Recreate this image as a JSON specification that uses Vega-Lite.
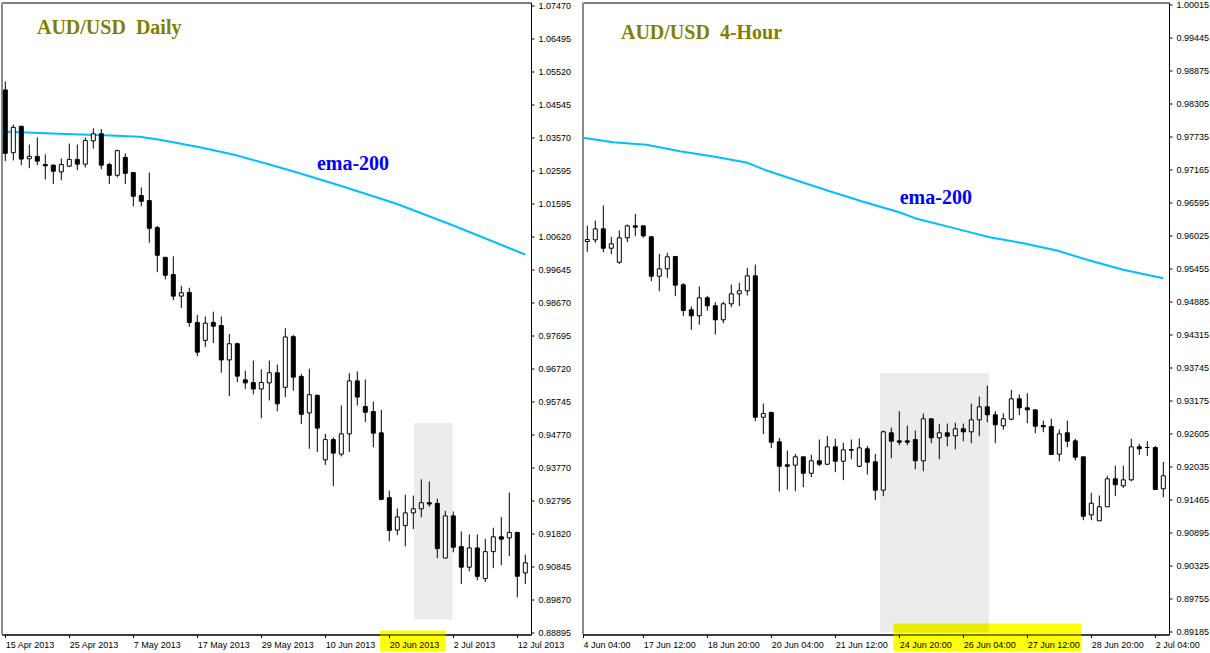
{
  "$schema": "https://vega.github.io/schema/vega-lite/v6.json",
  "background": "white",
  "padding": {"left": -3, "top": -0.5, "right": 0, "bottom": 0},
  "spacing": 52,
  "bounds": "flush",
  "config": {
    "view": {"stroke": "black", "strokeWidth": 1},
    "scale": {"continuousPadding": 0}
  },
  "datasets": {
    "daily": [
      {"i":0,"o":1.0497,"h":1.0522,"l":1.0286,"c":1.0309},
      {"i":1,"o":1.0311,"h":1.0394,"l":1.0288,"c":1.0386},
      {"i":2,"o":1.0389,"h":1.0391,"l":1.0274,"c":1.0292},
      {"i":3,"o":1.0293,"h":1.0335,"l":1.0265,"c":1.0300},
      {"i":4,"o":1.0300,"h":1.0356,"l":1.0274,"c":1.0286},
      {"i":5,"o":1.0276,"h":1.0306,"l":1.0232,"c":1.0272},
      {"i":6,"o":1.0274,"h":1.0276,"l":1.0218,"c":1.0256},
      {"i":7,"o":1.0254,"h":1.0294,"l":1.0229,"c":1.0276},
      {"i":8,"o":1.0271,"h":1.0338,"l":1.0268,"c":1.0291},
      {"i":9,"o":1.0291,"h":1.0335,"l":1.0259,"c":1.0277},
      {"i":10,"o":1.0277,"h":1.0356,"l":1.0267,"c":1.0347},
      {"i":11,"o":1.0346,"h":1.0383,"l":1.0323,"c":1.0367},
      {"i":12,"o":1.0367,"h":1.0381,"l":1.0262,"c":1.0274},
      {"i":13,"o":1.0276,"h":1.0281,"l":1.0218,"c":1.0244},
      {"i":14,"o":1.0244,"h":1.0320,"l":1.0238,"c":1.0317},
      {"i":15,"o":1.0297,"h":1.0309,"l":1.0218,"c":1.0250},
      {"i":16,"o":1.0252,"h":1.0252,"l":1.0152,"c":1.0182},
      {"i":17,"o":1.0184,"h":1.0208,"l":1.0152,"c":1.0167},
      {"i":18,"o":1.0169,"h":1.0252,"l":1.0044,"c":1.0087},
      {"i":19,"o":1.0089,"h":1.0094,"l":0.9957,"c":1.0007},
      {"i":20,"o":1.0001,"h":1.0001,"l":0.9936,"c":0.9948},
      {"i":21,"o":0.9950,"h":1.0004,"l":0.9874,"c":0.9886},
      {"i":22,"o":0.9886,"h":0.9917,"l":0.9851,"c":0.9896},
      {"i":23,"o":0.9897,"h":0.9911,"l":0.9795,"c":0.9808},
      {"i":24,"o":0.9808,"h":0.9830,"l":0.9708,"c":0.9720},
      {"i":25,"o":0.9755,"h":0.9826,"l":0.9735,"c":0.9806},
      {"i":26,"o":0.9808,"h":0.9840,"l":0.9747,"c":0.9797},
      {"i":27,"o":0.9799,"h":0.9826,"l":0.9659,"c":0.9697},
      {"i":28,"o":0.9697,"h":0.9774,"l":0.9590,"c":0.9745},
      {"i":29,"o":0.9745,"h":0.9748,"l":0.9631,"c":0.9649},
      {"i":30,"o":0.9638,"h":0.9665,"l":0.9611,"c":0.9629},
      {"i":31,"o":0.9630,"h":0.9695,"l":0.9595,"c":0.9611},
      {"i":32,"o":0.9611,"h":0.9669,"l":0.9524,"c":0.9630},
      {"i":33,"o":0.9629,"h":0.9695,"l":0.9577,"c":0.9659},
      {"i":34,"o":0.9659,"h":0.9683,"l":0.9545,"c":0.9567},
      {"i":35,"o":0.9616,"h":0.9791,"l":0.9587,"c":0.9765},
      {"i":36,"o":0.9766,"h":0.9771,"l":0.9606,"c":0.9646},
      {"i":37,"o":0.9648,"h":0.9656,"l":0.9507,"c":0.9536},
      {"i":38,"o":0.9540,"h":0.9671,"l":0.9434,"c":0.9594},
      {"i":39,"o":0.9592,"h":0.9595,"l":0.9424,"c":0.9495},
      {"i":40,"o":0.9401,"h":0.9478,"l":0.9386,"c":0.9461},
      {"i":41,"o":0.9461,"h":0.9468,"l":0.9323,"c":0.9421},
      {"i":42,"o":0.9418,"h":0.9562,"l":0.9411,"c":0.9478},
      {"i":43,"o":0.9478,"h":0.9658,"l":0.9424,"c":0.9635},
      {"i":44,"o":0.9635,"h":0.9663,"l":0.9562,"c":0.9587},
      {"i":45,"o":0.9559,"h":0.9639,"l":0.9513,"c":0.9542},
      {"i":46,"o":0.9544,"h":0.9574,"l":0.9438,"c":0.9480},
      {"i":47,"o":0.9481,"h":0.9549,"l":0.9281,"c":0.9284},
      {"i":48,"o":0.9289,"h":0.9310,"l":0.9160,"c":0.9192},
      {"i":49,"o":0.9193,"h":0.9257,"l":0.9178,"c":0.9232},
      {"i":50,"o":0.9206,"h":0.9298,"l":0.9145,"c":0.9244},
      {"i":51,"o":0.9244,"h":0.9295,"l":0.9196,"c":0.9256},
      {"i":52,"o":0.9256,"h":0.9343,"l":0.9231,"c":0.9274},
      {"i":53,"o":0.9274,"h":0.9337,"l":0.9262,"c":0.9270},
      {"i":54,"o":0.9272,"h":0.9286,"l":0.9110,"c":0.9138},
      {"i":55,"o":0.9110,"h":0.9250,"l":0.9110,"c":0.9235},
      {"i":56,"o":0.9235,"h":0.9248,"l":0.9127,"c":0.9142},
      {"i":57,"o":0.9144,"h":0.9189,"l":0.9033,"c":0.9083},
      {"i":58,"o":0.9083,"h":0.9180,"l":0.9071,"c":0.9140},
      {"i":59,"o":0.9140,"h":0.9180,"l":0.9044,"c":0.9056},
      {"i":60,"o":0.9049,"h":0.9167,"l":0.9039,"c":0.9129},
      {"i":61,"o":0.9129,"h":0.9200,"l":0.9080,"c":0.9173},
      {"i":62,"o":0.9173,"h":0.9232,"l":0.9089,"c":0.9166},
      {"i":63,"o":0.9170,"h":0.9304,"l":0.9116,"c":0.9186},
      {"i":64,"o":0.9186,"h":0.9188,"l":0.8994,"c":0.9056},
      {"i":65,"o":0.9066,"h":0.9120,"l":0.9033,"c":0.9096}
    ],
    "h4": [
      {"i":0,"o":0.95919,"h":0.96190,"l":0.95741,"c":0.95953},
      {"i":1,"o":0.95948,"h":0.96282,"l":0.95896,"c":0.96138},
      {"i":2,"o":0.96138,"h":0.96541,"l":0.95734,"c":0.95803},
      {"i":3,"o":0.95803,"h":0.96000,"l":0.95699,"c":0.95879},
      {"i":4,"o":0.95561,"h":0.96109,"l":0.95533,"c":0.95983},
      {"i":5,"o":0.95983,"h":0.96213,"l":0.95907,"c":0.96190},
      {"i":6,"o":0.96190,"h":0.96398,"l":0.96010,"c":0.96166},
      {"i":7,"o":0.96190,"h":0.96190,"l":0.95983,"c":0.96017},
      {"i":8,"o":0.96000,"h":0.96017,"l":0.95233,"c":0.95319},
      {"i":9,"o":0.95319,"h":0.95706,"l":0.95060,"c":0.95447},
      {"i":10,"o":0.95447,"h":0.95724,"l":0.95292,"c":0.95655},
      {"i":11,"o":0.95660,"h":0.95672,"l":0.94974,"c":0.95164},
      {"i":12,"o":0.95171,"h":0.95198,"l":0.94628,"c":0.94726},
      {"i":13,"o":0.94739,"h":0.94796,"l":0.94393,"c":0.94635},
      {"i":14,"o":0.94635,"h":0.95141,"l":0.94484,"c":0.94946},
      {"i":15,"o":0.94946,"h":0.94980,"l":0.94726,"c":0.94808},
      {"i":16,"o":0.94808,"h":0.94870,"l":0.94312,"c":0.94566},
      {"i":17,"o":0.94566,"h":0.94877,"l":0.94507,"c":0.94842},
      {"i":18,"o":0.94842,"h":0.95176,"l":0.94783,"c":0.95015},
      {"i":19,"o":0.95015,"h":0.95205,"l":0.94801,"c":0.95067},
      {"i":20,"o":0.95067,"h":0.95464,"l":0.94986,"c":0.95326},
      {"i":21,"o":0.95326,"h":0.95521,"l":0.92813,"c":0.92882},
      {"i":22,"o":0.92882,"h":0.93119,"l":0.92589,"c":0.92946},
      {"i":23,"o":0.92964,"h":0.92981,"l":0.92347,"c":0.92450},
      {"i":24,"o":0.92457,"h":0.92526,"l":0.91598,"c":0.92035},
      {"i":25,"o":0.92060,"h":0.92307,"l":0.91633,"c":0.92035},
      {"i":26,"o":0.92053,"h":0.92250,"l":0.91603,"c":0.92198},
      {"i":27,"o":0.92198,"h":0.92198,"l":0.91673,"c":0.91914},
      {"i":28,"o":0.91914,"h":0.92232,"l":0.91845,"c":0.92129},
      {"i":29,"o":0.92129,"h":0.92497,"l":0.92035,"c":0.92070},
      {"i":30,"o":0.92070,"h":0.92561,"l":0.92053,"c":0.92371},
      {"i":31,"o":0.92371,"h":0.92509,"l":0.91932,"c":0.92122},
      {"i":32,"o":0.92122,"h":0.92440,"l":0.91793,"c":0.92319},
      {"i":33,"o":0.92324,"h":0.92497,"l":0.92156,"c":0.92312},
      {"i":34,"o":0.92035,"h":0.92514,"l":0.92018,"c":0.92353},
      {"i":35,"o":0.92336,"h":0.92388,"l":0.91892,"c":0.92105},
      {"i":36,"o":0.92111,"h":0.92250,"l":0.91448,"c":0.91621},
      {"i":37,"o":0.91621,"h":0.92652,"l":0.91517,"c":0.92630},
      {"i":38,"o":0.92613,"h":0.92704,"l":0.92174,"c":0.92468},
      {"i":39,"o":0.92474,"h":0.92986,"l":0.92398,"c":0.92450},
      {"i":40,"o":0.92474,"h":0.92739,"l":0.92398,"c":0.92450},
      {"i":41,"o":0.92497,"h":0.92652,"l":0.91984,"c":0.92129},
      {"i":42,"o":0.92129,"h":0.92946,"l":0.91949,"c":0.92855},
      {"i":43,"o":0.92855,"h":0.92855,"l":0.92433,"c":0.92526},
      {"i":44,"o":0.92526,"h":0.92768,"l":0.92156,"c":0.92613},
      {"i":45,"o":0.92613,"h":0.92773,"l":0.92381,"c":0.92554},
      {"i":46,"o":0.92561,"h":0.92786,"l":0.92329,"c":0.92682},
      {"i":47,"o":0.92682,"h":0.92773,"l":0.92468,"c":0.92630},
      {"i":48,"o":0.92630,"h":0.93119,"l":0.92433,"c":0.92837},
      {"i":49,"o":0.92837,"h":0.93240,"l":0.92554,"c":0.93062},
      {"i":50,"o":0.93062,"h":0.93430,"l":0.92796,"c":0.92924},
      {"i":51,"o":0.92924,"h":0.92986,"l":0.92433,"c":0.92751},
      {"i":52,"o":0.92734,"h":0.92951,"l":0.92665,"c":0.92855},
      {"i":53,"o":0.92848,"h":0.93356,"l":0.92830,"c":0.93200},
      {"i":54,"o":0.93200,"h":0.93275,"l":0.92917,"c":0.93045},
      {"i":55,"o":0.93045,"h":0.93297,"l":0.92779,"c":0.93010},
      {"i":56,"o":0.93010,"h":0.93010,"l":0.92606,"c":0.92727},
      {"i":57,"o":0.92739,"h":0.92825,"l":0.92623,"c":0.92716},
      {"i":58,"o":0.92722,"h":0.92855,"l":0.92232,"c":0.92238},
      {"i":59,"o":0.92243,"h":0.92670,"l":0.92122,"c":0.92595},
      {"i":60,"o":0.92613,"h":0.92825,"l":0.92364,"c":0.92468},
      {"i":61,"o":0.92474,"h":0.92509,"l":0.92134,"c":0.92191},
      {"i":62,"o":0.92198,"h":0.92198,"l":0.91102,"c":0.91171},
      {"i":63,"o":0.91195,"h":0.91576,"l":0.91102,"c":0.91396},
      {"i":64,"o":0.91092,"h":0.91529,"l":0.91092,"c":0.91334},
      {"i":65,"o":0.91334,"h":0.91870,"l":0.91334,"c":0.91818},
      {"i":66,"o":0.91818,"h":0.92042,"l":0.91517,"c":0.91714},
      {"i":67,"o":0.91697,"h":0.92042,"l":0.91662,"c":0.91800},
      {"i":68,"o":0.91800,"h":0.92509,"l":0.91776,"c":0.92371},
      {"i":69,"o":0.92371,"h":0.92423,"l":0.92232,"c":0.92336},
      {"i":70,"o":0.92359,"h":0.92468,"l":0.92215,"c":0.92359},
      {"i":71,"o":0.92359,"h":0.92388,"l":0.91627,"c":0.91633},
      {"i":72,"o":0.91645,"h":0.92111,"l":0.91500,"c":0.91870}
    ],
    "emaDaily": [
      {"i":-0.4125,"p":1.03737},{"i":4.96,"p":1.03687},{"i":13.1,"p":1.03619},{"i":16.8,"p":1.03580},
      {"i":19.3,"p":1.03491},{"i":24.3,"p":1.03272},{"i":28.5,"p":1.03056},{"i":32.7,"p":1.02780},
      {"i":36.8,"p":1.02502},{"i":41.8,"p":1.02137},{"i":48.9,"p":1.01595},{"i":56,"p":1.00952},
      {"i":65,"p":1.00093}
    ],
    "emaH4": [
      {"i":-0.5375,"p":0.97711},{"i":3.25,"p":0.97635},{"i":7.4,"p":0.97590},{"i":11.6,"p":0.97480},
      {"i":15.75,"p":0.97388},{"i":19.9,"p":0.97284},{"i":22.4,"p":0.97146},{"i":26.2,"p":0.96973},
      {"i":30.3,"p":0.96788},{"i":34.5,"p":0.96605},{"i":39.1,"p":0.96420},{"i":41.2,"p":0.96311},
      {"i":46.2,"p":0.96138},{"i":50.3,"p":0.95993},{"i":54.5,"p":0.95889},{"i":58.7,"p":0.95763},
      {"i":62.8,"p":0.95590},{"i":67,"p":0.95430},{"i":72,"p":0.95285}
    ]
  },
  "hconcat": [
    {
      "width": 529,
      "height": 632,
      "layer": [
        {
          "data": {"values": [{"i":46.84,"i2":55.05,"p":0.88954,"p2":0.88347}]},
          "mark": {"type": "rect", "color": "#ffff00", "clip": false},
          "encoding": {
            "x": {"field": "i", "type": "quantitative", "title": null,
                  "scale": {"domain": [-0.4125, 65.7125], "nice": false, "zero": false, "padding": 0},
                  "axis": {"values": [0,8,16,24,32,40,48,56,64], "tickCount": 40, "zindex": 1, "grid": false,
                           "labelOverlap": false, "labelFlush": false, "labelBound": false,
                           "labelAlign": "left", "labelBaseline": "top", "labelPadding": 3,
                           "labelFont": "Liberation Sans", "labelFontSize": 9, "labelColor": "black",
                           "tickColor": "black", "tickSize": 3, "domainColor": "black",
                           "labelExpr": "['15 Apr 2013','25 Apr 2013','7 May 2013','17 May 2013','29 May 2013','10 Jun 2013','20 Jun 2013','2 Jul 2013','12 Jul 2013'][round(datum.value/8)]"}},
            "x2": {"field": "i2"},
            "y": {"field": "p", "type": "quantitative", "title": null,
                  "scale": {"domain": [0.88836, 1.07559], "nice": false, "zero": false, "padding": 0},
                  "axis": {"orient": "right", "format": ".5f", "tickCount": 40, "zindex": 1, "grid": false,
                           "labelOverlap": false, "labelFlush": false, "labelBound": false,
                           "labelPadding": 4, "labelFont": "Liberation Sans", "labelFontSize": 9, "labelColor": "black",
                           "tickColor": "black", "tickSize": 3, "domainColor": "black",
                           "values": [1.07470,1.06495,1.05520,1.04545,1.03570,1.02595,1.01595,1.00620,0.99645,0.98670,0.97695,0.96720,0.95745,0.94770,0.93770,0.92795,0.91820,0.90845,0.89870,0.88895]}},
            "y2": {"field": "p2"}
          }
        },
        {
          "data": {"values": [{"i":51.09,"i2":55.9,"p":0.9510,"p2":0.8929}]},
          "mark": {"type": "rect", "color": "black", "opacity": 0.075},
          "encoding": {
            "x": {"field": "i", "type": "quantitative", "title": null, "scale": {"domain": [-0.4125, 65.7125], "nice": false, "zero": false, "padding": 0}},
            "x2": {"field": "i2"},
            "y": {"field": "p", "type": "quantitative", "title": null, "scale": {"domain": [0.88836, 1.07559], "nice": false, "zero": false, "padding": 0}},
            "y2": {"field": "p2"}
          }
        },
        {
          "data": {"values": [{"i": -0.4125}]},
          "mark": {"type": "rule", "color": "#8c8c8c", "strokeWidth": 2},
          "encoding": {
            "x": {"field": "i", "type": "quantitative", "title": null, "scale": {"domain": [-0.4125, 65.7125], "nice": false, "zero": false, "padding": 0}}
          }
        },
        {
          "data": {"name": "emaDaily"},
          "mark": {"type": "line", "color": "#00bfff", "strokeWidth": 2},
          "encoding": {
            "x": {"field": "i", "type": "quantitative", "title": null, "scale": {"domain": [-0.4125, 65.7125], "nice": false, "zero": false, "padding": 0}},
            "y": {"field": "p", "type": "quantitative", "title": null, "scale": {"domain": [0.88836, 1.07559], "nice": false, "zero": false, "padding": 0}}
          }
        },
        {
          "data": {"name": "daily"},
          "mark": {"type": "rule", "color": "black", "strokeWidth": 1},
          "encoding": {
            "x": {"field": "i", "type": "quantitative", "title": null, "scale": {"domain": [-0.4125, 65.7125], "nice": false, "zero": false, "padding": 0}},
            "y": {"field": "l", "type": "quantitative", "title": null, "scale": {"domain": [0.88836, 1.07559], "nice": false, "zero": false, "padding": 0}},
            "y2": {"field": "h"}
          }
        },
        {
          "data": {"name": "daily"},
          "mark": {"type": "bar", "width": 4, "stroke": "black", "strokeWidth": 1},
          "encoding": {
            "x": {"field": "i", "type": "quantitative", "title": null, "scale": {"domain": [-0.4125, 65.7125], "nice": false, "zero": false, "padding": 0}},
            "y": {"field": "o", "type": "quantitative", "title": null, "scale": {"domain": [0.88836, 1.07559], "nice": false, "zero": false, "padding": 0}},
            "y2": {"field": "c"},
            "fill": {"condition": {"test": "datum.c > datum.o", "value": "white"}, "value": "black"}
          }
        },
        {
          "data": {"values": [{"i": 3.96, "p": 1.06789, "t": "AUD/USD\u00a0 Daily"}]},
          "mark": {"type": "text", "align": "left", "baseline": "middle", "font": "Liberation Serif", "fontWeight": "bold", "fontSize": 20, "color": "#808000"},
          "encoding": {
            "x": {"field": "i", "type": "quantitative", "title": null, "scale": {"domain": [-0.4125, 65.7125], "nice": false, "zero": false, "padding": 0}},
            "y": {"field": "p", "type": "quantitative", "title": null, "scale": {"domain": [0.88836, 1.07559], "nice": false, "zero": false, "padding": 0}},
            "text": {"field": "t"}
          }
        },
        {
          "data": {"values": [{"i": 43.46, "p": 1.0276, "t": "ema-200"}]},
          "mark": {"type": "text", "align": "center", "baseline": "middle", "font": "Liberation Serif", "fontWeight": "bold", "fontSize": 20, "color": "#0000ff"},
          "encoding": {
            "x": {"field": "i", "type": "quantitative", "title": null, "scale": {"domain": [-0.4125, 65.7125], "nice": false, "zero": false, "padding": 0}},
            "y": {"field": "p", "type": "quantitative", "title": null, "scale": {"domain": [0.88836, 1.07559], "nice": false, "zero": false, "padding": 0}},
            "text": {"field": "t"}
          }
        }
      ]
    },
    {
      "width": 586,
      "height": 632,
      "layer": [
        {
          "data": {"values": [{"i":38.25,"i2":61.71,"p":0.89317,"p2":0.88842}]},
          "mark": {"type": "rect", "color": "#ffff00", "clip": false},
          "encoding": {
            "x": {"field": "i", "type": "quantitative", "title": null,
                  "scale": {"domain": [-0.5375, 72.7125], "nice": false, "zero": false, "padding": 0},
                  "axis": {"values": [-0.5375,7,15,23,31,39,47,55,63,71], "tickCount": 40, "zindex": 1, "grid": false,
                           "labelOverlap": false, "labelFlush": false, "labelBound": false,
                           "labelAlign": "left", "labelBaseline": "top", "labelPadding": 3,
                           "labelFont": "Liberation Sans", "labelFontSize": 9, "labelColor": "black",
                           "tickColor": "black", "tickSize": 3, "domainColor": "black",
                           "labelExpr": "datum.value < 0 ? '4 Jun 04:00' : ['17 Jun 12:00','18 Jun 20:00','20 Jun 04:00','21 Jun 12:00','24 Jun 20:00','26 Jun 04:00','27 Jun 12:00','28 Jun 20:00','2 Jul 04:00'][round((datum.value-7)/8)]"}},
            "x2": {"field": "i2"},
            "y": {"field": "p", "type": "quantitative", "title": null,
                  "scale": {"domain": [0.89127, 1.00050], "nice": false, "zero": false, "padding": 0},
                  "axis": {"orient": "right", "format": ".5f", "tickCount": 40, "zindex": 1, "grid": false,
                           "labelOverlap": false, "labelFlush": false, "labelBound": false,
                           "labelPadding": 4, "labelFont": "Liberation Sans", "labelFontSize": 9, "labelColor": "black",
                           "tickColor": "black", "tickSize": 3, "domainColor": "black",
                           "values": [1.00015,0.99445,0.98875,0.98305,0.97735,0.97165,0.96595,0.96025,0.95455,0.94885,0.94315,0.93745,0.93175,0.92605,0.92035,0.91465,0.90895,0.90325,0.89755,0.89185]}},
            "y2": {"field": "p2"}
          }
        },
        {
          "data": {"values": [{"i":36.59,"i2":50.21,"p":0.93643,"p2":0.89161}]},
          "mark": {"type": "rect", "color": "black", "opacity": 0.075},
          "encoding": {
            "x": {"field": "i", "type": "quantitative", "title": null, "scale": {"domain": [-0.5375, 72.7125], "nice": false, "zero": false, "padding": 0}},
            "x2": {"field": "i2"},
            "y": {"field": "p", "type": "quantitative", "title": null, "scale": {"domain": [0.89127, 1.00050], "nice": false, "zero": false, "padding": 0}},
            "y2": {"field": "p2"}
          }
        },
        {
          "data": {"values": [{"i": -0.5375}]},
          "mark": {"type": "rule", "color": "#8c8c8c", "strokeWidth": 2},
          "encoding": {
            "x": {"field": "i", "type": "quantitative", "title": null, "scale": {"domain": [-0.5375, 72.7125], "nice": false, "zero": false, "padding": 0}}
          }
        },
        {
          "data": {"name": "emaH4"},
          "mark": {"type": "line", "color": "#00bfff", "strokeWidth": 2},
          "encoding": {
            "x": {"field": "i", "type": "quantitative", "title": null, "scale": {"domain": [-0.5375, 72.7125], "nice": false, "zero": false, "padding": 0}},
            "y": {"field": "p", "type": "quantitative", "title": null, "scale": {"domain": [0.89127, 1.00050], "nice": false, "zero": false, "padding": 0}}
          }
        },
        {
          "data": {"name": "h4"},
          "mark": {"type": "rule", "color": "black", "strokeWidth": 1},
          "encoding": {
            "x": {"field": "i", "type": "quantitative", "title": null, "scale": {"domain": [-0.5375, 72.7125], "nice": false, "zero": false, "padding": 0}},
            "y": {"field": "l", "type": "quantitative", "title": null, "scale": {"domain": [0.89127, 1.00050], "nice": false, "zero": false, "padding": 0}},
            "y2": {"field": "h"}
          }
        },
        {
          "data": {"name": "h4"},
          "mark": {"type": "bar", "width": 4, "stroke": "black", "strokeWidth": 1},
          "encoding": {
            "x": {"field": "i", "type": "quantitative", "title": null, "scale": {"domain": [-0.5375, 72.7125], "nice": false, "zero": false, "padding": 0}},
            "y": {"field": "o", "type": "quantitative", "title": null, "scale": {"domain": [0.89127, 1.00050], "nice": false, "zero": false, "padding": 0}},
            "y2": {"field": "c"},
            "fill": {"condition": {"test": "datum.c > datum.o", "value": "white"}, "value": "black"}
          }
        },
        {
          "data": {"values": [{"i": 4.21, "p": 0.99526, "t": "AUD/USD\u00a0 4-Hour"}]},
          "mark": {"type": "text", "align": "left", "baseline": "middle", "font": "Liberation Serif", "fontWeight": "bold", "fontSize": 20, "color": "#808000"},
          "encoding": {
            "x": {"field": "i", "type": "quantitative", "title": null, "scale": {"domain": [-0.5375, 72.7125], "nice": false, "zero": false, "padding": 0}},
            "y": {"field": "p", "type": "quantitative", "title": null, "scale": {"domain": [0.89127, 1.00050], "nice": false, "zero": false, "padding": 0}},
            "text": {"field": "t"}
          }
        },
        {
          "data": {"values": [{"i": 43.56, "p": 0.96674, "t": "ema-200"}]},
          "mark": {"type": "text", "align": "center", "baseline": "middle", "font": "Liberation Serif", "fontWeight": "bold", "fontSize": 20, "color": "#0000ff"},
          "encoding": {
            "x": {"field": "i", "type": "quantitative", "title": null, "scale": {"domain": [-0.5375, 72.7125], "nice": false, "zero": false, "padding": 0}},
            "y": {"field": "p", "type": "quantitative", "title": null, "scale": {"domain": [0.89127, 1.00050], "nice": false, "zero": false, "padding": 0}},
            "text": {"field": "t"}
          }
        }
      ]
    }
  ]
}
